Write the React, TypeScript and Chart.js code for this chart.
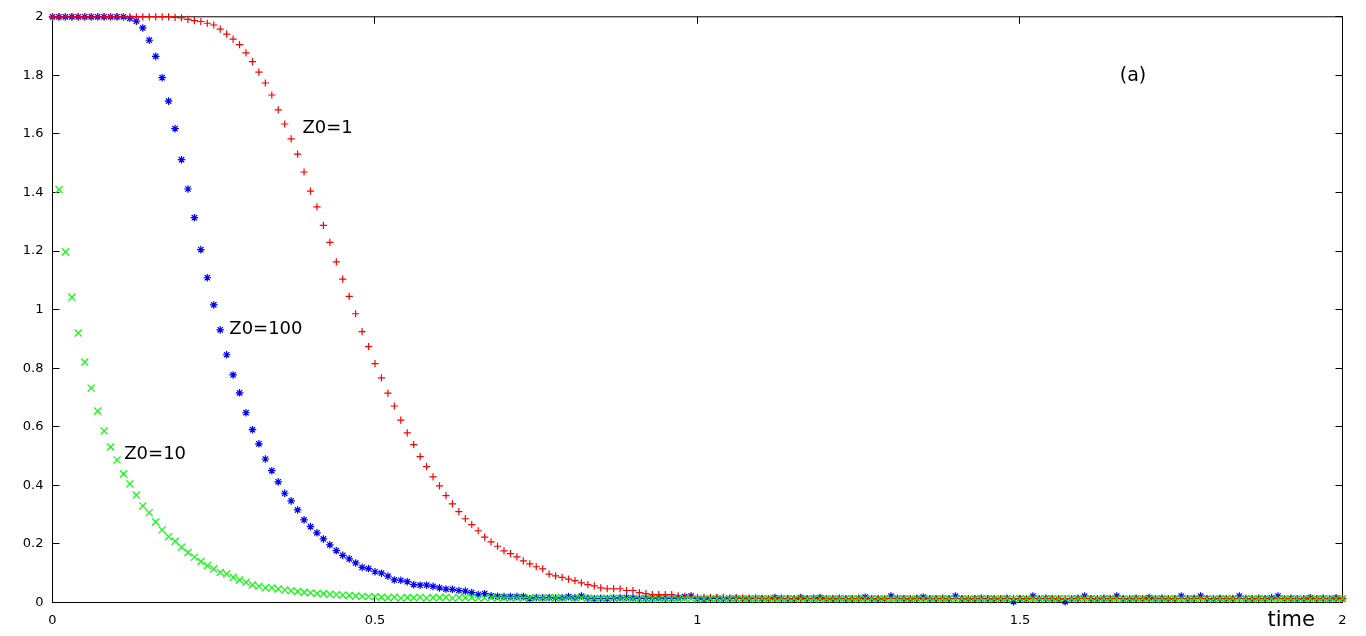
import React, { useEffect, useRef } from "react";
import { Chart, registerables } from "chart.js";
Chart.register(...registerables);

// time grid (step 0.01 from 0 to 2)
const times: number[] = Array.from({ length: 201 }, (_, i) => i / 100);

// Z0=1 (red +)
const z0_1: number[] = [
  2, 2, 2, 2, 2, 2, 2, 2, 2, 2,
  2, 2, 2, 2, 2, 2, 2, 2, 2, 1.998,
  1.996, 1.991, 1.987, 1.984, 1.978, 1.972, 1.958, 1.941, 1.924, 1.905,
  1.877, 1.847, 1.811, 1.774, 1.733, 1.682, 1.634, 1.583, 1.531, 1.47,
  1.405, 1.351, 1.288, 1.23, 1.163, 1.104, 1.045, 0.986, 0.925, 0.874,
  0.816, 0.767, 0.715, 0.671, 0.623, 0.579, 0.539, 0.498, 0.464, 0.429,
  0.398, 0.365, 0.337, 0.31, 0.286, 0.266, 0.245, 0.223, 0.207, 0.192,
  0.176, 0.167, 0.156, 0.142, 0.132, 0.122, 0.115, 0.097, 0.091, 0.086,
  0.08, 0.075, 0.067, 0.061, 0.057, 0.05, 0.047, 0.047, 0.047, 0.041,
  0.041, 0.034, 0.03, 0.027, 0.027, 0.027, 0.027, 0.023, 0.02, 0.02,
  0.018, 0.018, 0.017, 0.018, 0.017, 0.016, 0.016, 0.015, 0.015, 0.014,
  0.014, 0.013, 0.013, 0.013, 0.013, 0.013, 0.013, 0.013, 0.013, 0.013,
  0.013, 0.013, 0.013, 0.013, 0.013, 0.013, 0.013, 0.013, 0.013, 0.013,
  0.013, 0.013, 0.013, 0.013, 0.013, 0.013, 0.013, 0.013, 0.013, 0.013,
  0.013, 0.013, 0.013, 0.013, 0.013, 0.013, 0.013, 0.013, 0.013, 0.013,
  0.013, 0.013, 0.013, 0.013, 0.013, 0.013, 0.013, 0.013, 0.013, 0.013,
  0.013, 0.013, 0.013, 0.013, 0.013, 0.013, 0.013, 0.013, 0.013, 0.013,
  0.013, 0.013, 0.013, 0.013, 0.013, 0.013, 0.013, 0.013, 0.013, 0.013,
  0.013, 0.013, 0.013, 0.013, 0.013, 0.013, 0.013, 0.013, 0.013, 0.013,
  0.013, 0.013, 0.013, 0.013, 0.013, 0.013, 0.013, 0.013, 0.013, 0.013,
  0.013,
];

// Z0=100 (blue *)
const z0_100: number[] = [
  2, 2, 2, 2, 2, 2, 2, 2, 2, 2,
  2, 2, 1.995, 1.985, 1.962, 1.92, 1.865, 1.792, 1.712, 1.618,
  1.512, 1.412, 1.314, 1.205, 1.109, 1.016, 0.931, 0.846, 0.777, 0.716,
  0.648, 0.59, 0.542, 0.49, 0.45, 0.412, 0.373, 0.347, 0.316, 0.282,
  0.259, 0.238, 0.217, 0.197, 0.177, 0.161, 0.149, 0.135, 0.12, 0.116,
  0.105, 0.1, 0.09, 0.077, 0.076, 0.071, 0.061, 0.059, 0.059, 0.055,
  0.05, 0.046, 0.045, 0.041, 0.039, 0.034, 0.027, 0.03, 0.023, 0.021,
  0.02, 0.02, 0.02, 0.02, 0.013, 0.017, 0.016, 0.017, 0.015, 0.016,
  0.02, 0.016, 0.022, 0.015, 0.013, 0.014, 0.013, 0.015, 0.016, 0.017,
  0.016, 0.014, 0.015, 0.015, 0.016, 0.015, 0.014, 0.016, 0.02, 0.022,
  0.013, 0.011, 0.013, 0.014, 0.012, 0.013, 0.014, 0.013, 0.012, 0.014,
  0.013, 0.013, 0.017, 0.014, 0.013, 0.012, 0.017, 0.013, 0.014, 0.017,
  0.013, 0.012, 0.014, 0.013, 0.013, 0.014, 0.018, 0.013, 0.012, 0.013,
  0.022, 0.014, 0.013, 0.012, 0.014, 0.018, 0.013, 0.013, 0.014, 0.013,
  0.022, 0.013, 0.012, 0.013, 0.014, 0.013, 0.012, 0.013, 0.014, 0.003,
  0.013, 0.012, 0.022, 0.013, 0.014, 0.013, 0.012, 0.003, 0.013, 0.014,
  0.022, 0.013, 0.012, 0.014, 0.013, 0.022, 0.013, 0.012, 0.014, 0.013,
  0.017, 0.013, 0.014, 0.012, 0.013, 0.022, 0.013, 0.014, 0.022, 0.013,
  0.012, 0.014, 0.013, 0.013, 0.022, 0.013, 0.012, 0.014, 0.013, 0.016,
  0.022, 0.013, 0.014, 0.013, 0.012, 0.016, 0.013, 0.014, 0.013, 0.016,
  0.013,
];

// Z0=10 (green x); no marker at t=0
const z0_10: (number | null)[] = [
  null, 1.41, 1.197, 1.043, 0.92, 0.821, 0.732, 0.654, 0.586, 0.531,
  0.487, 0.439, 0.405, 0.367, 0.33, 0.307, 0.275, 0.248, 0.225, 0.209,
  0.189, 0.171, 0.155, 0.14, 0.126, 0.115, 0.103, 0.098, 0.086, 0.077,
  0.069, 0.06, 0.056, 0.05, 0.05, 0.046, 0.043, 0.04, 0.038, 0.035,
  0.033, 0.031, 0.03, 0.028, 0.027, 0.025, 0.024, 0.022, 0.021, 0.02,
  0.02, 0.018, 0.016, 0.018, 0.015, 0.017, 0.016, 0.018, 0.015, 0.017,
  0.016, 0.018, 0.015, 0.017, 0.016, 0.017, 0.015, 0.016, 0.017, 0.015,
  0.016, 0.015, 0.016, 0.015, 0.016, 0.015, 0.016, 0.015, 0.016, 0.015,
  0.016, 0.015, 0.016, 0.015, 0.015, 0.014, 0.015, 0.014, 0.014, 0.013,
  0.013, 0.013, 0.013, 0.013, 0.013, 0.013, 0.013, 0.013, 0.013, 0.013,
  0.013, 0.013, 0.013, 0.013, 0.013, 0.013, 0.013, 0.013, 0.013, 0.013,
  0.013, 0.013, 0.013, 0.013, 0.013, 0.013, 0.013, 0.013, 0.013, 0.013,
  0.013, 0.013, 0.013, 0.013, 0.013, 0.013, 0.013, 0.013, 0.013, 0.013,
  0.013, 0.013, 0.013, 0.013, 0.013, 0.013, 0.013, 0.013, 0.013, 0.013,
  0.013, 0.013, 0.013, 0.013, 0.013, 0.013, 0.013, 0.013, 0.013, 0.013,
  0.013, 0.013, 0.013, 0.013, 0.013, 0.013, 0.013, 0.014, 0.013, 0.013,
  0.013, 0.013, 0.013, 0.013, 0.013, 0.013, 0.013, 0.013, 0.013, 0.013,
  0.013, 0.013, 0.013, 0.013, 0.013, 0.013, 0.013, 0.013, 0.013, 0.013,
  0.013, 0.013, 0.013, 0.013, 0.013, 0.013, 0.013, 0.013, 0.013, 0.013,
  0.013, 0.013, 0.013, 0.013, 0.013, 0.013, 0.013, 0.013, 0.013, 0.013,
  0.013,
];

const xTicks: number[] = [0, 0.5, 1, 1.5, 2];
const yTicks: number[] = [0, 0.2, 0.4, 0.6, 0.8, 1, 1.2, 1.4, 1.6, 1.8, 2];

// text annotations anchored in data space
const annotationTexts: string[] = ["Z0=1", "Z0=100", "Z0=10", "(a)", "time"];
const annotationX: number[] = [0.3876, 0.2741, 0.1113, 1.6547, 1.8837];
const annotationY: number[] = [1.6048, 0.9171, 0.4887, 1.7816, -0.0819];
const annotationSize: number[] = [18, 18, 18, 19, 21];

const FONT = "'DejaVu Sans', sans-serif";

const toPoints = (vals: (number | null)[]) => vals.map((v, i) => ({ x: times[i], y: v }));
const fmt = (v: number) => String(parseFloat(Number(v).toFixed(2)));

const framePlugin = {
  id: "gnuframe",
  beforeDatasetsDraw(chart: any) {
    const { ctx, chartArea, scales } = chart;
    const { left, right, top, bottom } = chartArea;
    const xs = scales.x;
    const ys = scales.y;
    const tl = 7;
    ctx.save();
    ctx.strokeStyle = "#000";
    ctx.lineWidth = 1;
    ctx.strokeRect(left, top, right - left, bottom - top);
    ctx.beginPath();
    for (const v of xTicks) {
      const px = Math.floor(xs.getPixelForValue(v) - 0.01) + 0.5;
      ctx.moveTo(px, bottom);
      ctx.lineTo(px, bottom - tl);
      ctx.moveTo(px, top);
      ctx.lineTo(px, top + tl);
    }
    for (const v of yTicks) {
      const py = Math.floor(ys.getPixelForValue(v)) + 0.5;
      ctx.moveTo(left, py);
      ctx.lineTo(left + tl, py);
      ctx.moveTo(right, py);
      ctx.lineTo(right - tl, py);
    }
    ctx.stroke();
    ctx.restore();
  },
  afterDraw(chart: any) {
    const { ctx, scales } = chart;
    ctx.save();
    ctx.fillStyle = "#000";
    ctx.textAlign = "left";
    ctx.textBaseline = "alphabetic";
    annotationTexts.forEach((t, i) => {
      ctx.font = `${annotationSize[i]}px ${FONT}`;
      ctx.fillText(t, scales.x.getPixelForValue(annotationX[i]), scales.y.getPixelForValue(annotationY[i]));
    });
    ctx.restore();
  },
};

export default function App() {
  const canvasRef = useRef<HTMLCanvasElement | null>(null);
  useEffect(() => {
    if (!canvasRef.current) return;
    const chart = new Chart(canvasRef.current, {
      type: "scatter",
      data: {
        datasets: [
          {
            label: "Z0=10",
            data: toPoints(z0_10),
            pointStyle: "crossRot",
            pointRadius: 5,
            pointBorderWidth: 1.2,
            borderColor: "#00ff00",
            backgroundColor: "#00ff00",
            showLine: false,
            clip: false as any,
          },
          {
            label: "Z0=1",
            data: toPoints(z0_1),
            pointStyle: "cross",
            pointRadius: 3.6,
            pointBorderWidth: 1.2,
            borderColor: "#ff0000",
            backgroundColor: "#ff0000",
            showLine: false,
            clip: false as any,
          },
          {
            label: "Z0=100",
            data: toPoints(z0_100),
            pointStyle: "star",
            pointRadius: 3.8,
            pointBorderWidth: 1.2,
            borderColor: "#0000ff",
            backgroundColor: "#0000ff",
            showLine: false,
            clip: false as any,
          },
        ],
      },
      options: {
        responsive: false,
        animation: false,
        devicePixelRatio: 1,
        layout: { padding: { left: 0, top: 16.5, right: 23.5, bottom: 0 } },
        plugins: { legend: { display: false }, tooltip: { enabled: false } },
        events: [],
        scales: {
          x: {
            type: "linear",
            min: 0,
            max: 2,
            afterFit: (s: any) => {
              s.height = 33.5;
            },
            afterBuildTicks: (s: any) => {
              s.ticks = xTicks.map((v) => ({ value: v }));
            },
            ticks: {
              padding: 10,
              color: "#000",
              font: { family: FONT, size: 13 },
              maxRotation: 0,
              autoSkip: false,
              callback: (v: any) => fmt(v),
            },
            grid: { display: false, drawTicks: false },
            border: { display: false },
          },
          y: {
            type: "linear",
            min: 0,
            max: 2,
            afterFit: (s: any) => {
              s.width = 52.5;
            },
            afterBuildTicks: (s: any) => {
              s.ticks = yTicks.map((v) => ({ value: v }));
            },
            ticks: {
              padding: 9,
              color: "#000",
              font: { family: FONT, size: 13 },
              autoSkip: false,
              callback: (v: any) => fmt(v),
            },
            grid: { display: false, drawTicks: false },
            border: { display: false },
          },
        },
      } as any,
      plugins: [framePlugin as any],
    });
    return () => chart.destroy();
  }, []);
  return (
    <div style={{ position: "absolute", left: 0, top: 0, width: 1366, height: 636, background: "#fff" }}>
      <canvas ref={canvasRef} width={1366} height={636} style={{ display: "block" }} />
    </div>
  );
}
